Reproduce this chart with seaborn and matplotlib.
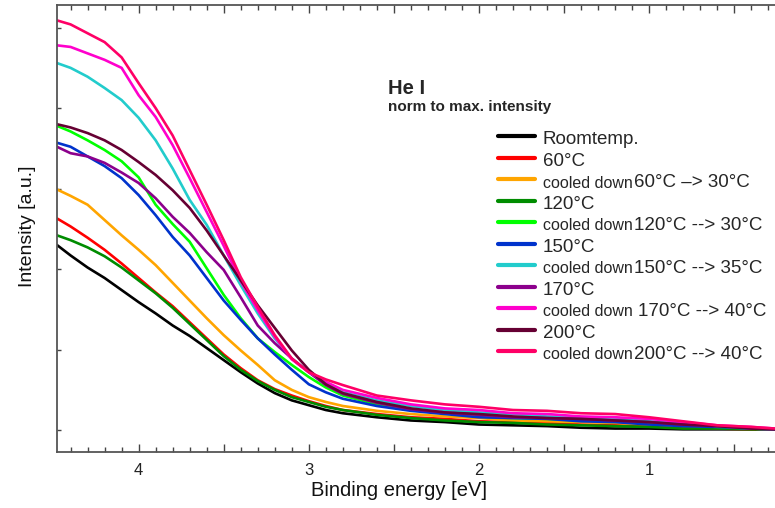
import pandas as pd
import matplotlib
matplotlib.use('Agg')
import matplotlib.pyplot as plt
import seaborn as sns
from matplotlib.ticker import MultipleLocator, FuncFormatter, NullFormatter

# binding energy grid [eV]
energy = [4.48, 4.4, 4.3, 4.2, 4.1, 4.0, 3.9, 3.8, 3.7, 3.6, 3.5, 3.4, 3.3, 3.2, 3.1, 3.0,
          2.9, 2.8, 2.6, 2.4, 2.2, 2.0, 1.8, 1.6, 1.4, 1.2, 1.0, 0.8, 0.6, 0.4, 0.26]

roomtemp = [2.30, 2.17, 2.02, 1.89, 1.74, 1.59, 1.45, 1.30, 1.17, 1.02, 0.87, 0.72, 0.58, 0.46, 0.37, 0.31,
            0.25, 0.21, 0.16, 0.12, 0.10, 0.07, 0.06, 0.05, 0.03, 0.02, 0.02, 0.01, 0.01, 0.01, 0.01]
t60 = [2.63, 2.53, 2.39, 2.24, 2.07, 1.89, 1.71, 1.54, 1.34, 1.14, 0.94, 0.77, 0.62, 0.51, 0.43, 0.36,
       0.30, 0.25, 0.20, 0.16, 0.14, 0.11, 0.10, 0.09, 0.07, 0.06, 0.05, 0.04, 0.02, 0.01, 0.01]
cool60 = [2.99, 2.91, 2.80, 2.61, 2.42, 2.24, 2.05, 1.83, 1.61, 1.39, 1.18, 0.99, 0.81, 0.62, 0.50, 0.41,
          0.35, 0.30, 0.24, 0.20, 0.17, 0.15, 0.12, 0.11, 0.10, 0.09, 0.07, 0.05, 0.04, 0.02, 0.01]
t120 = [2.42, 2.36, 2.27, 2.16, 2.02, 1.86, 1.70, 1.52, 1.32, 1.12, 0.92, 0.75, 0.61, 0.50, 0.41, 0.35,
        0.29, 0.25, 0.19, 0.15, 0.12, 0.10, 0.09, 0.07, 0.06, 0.05, 0.04, 0.02, 0.02, 0.01, 0.01]
cool120 = [3.78, 3.71, 3.60, 3.48, 3.34, 3.14, 2.80, 2.56, 2.34, 2.01, 1.68, 1.39, 1.14, 0.97, 0.81, 0.66,
           0.53, 0.43, 0.32, 0.25, 0.21, 0.17, 0.15, 0.14, 0.12, 0.11, 0.09, 0.06, 0.04, 0.02, 0.01]
t150 = [3.57, 3.52, 3.40, 3.28, 3.13, 2.92, 2.67, 2.40, 2.17, 1.89, 1.61, 1.37, 1.14, 0.94, 0.75, 0.57,
        0.47, 0.39, 0.30, 0.24, 0.20, 0.16, 0.15, 0.14, 0.11, 0.10, 0.07, 0.05, 0.04, 0.02, 0.01]
cool150 = [4.56, 4.50, 4.39, 4.25, 4.10, 3.88, 3.60, 3.25, 2.86, 2.55, 2.17, 1.80, 1.45, 1.14, 0.89, 0.72,
           0.57, 0.47, 0.37, 0.30, 0.25, 0.22, 0.20, 0.17, 0.15, 0.14, 0.11, 0.09, 0.05, 0.02, 0.01]
t170 = [3.52, 3.44, 3.40, 3.32, 3.20, 3.07, 2.88, 2.65, 2.45, 2.21, 1.99, 1.65, 1.30, 1.08, 0.89, 0.72,
        0.56, 0.45, 0.34, 0.26, 0.22, 0.19, 0.16, 0.15, 0.14, 0.12, 0.10, 0.07, 0.05, 0.02, 0.01]
cool170 = [4.78, 4.76, 4.68, 4.60, 4.50, 4.16, 3.89, 3.54, 3.13, 2.71, 2.29, 1.85, 1.49, 1.16, 0.88, 0.72,
           0.60, 0.50, 0.40, 0.32, 0.27, 0.25, 0.21, 0.20, 0.17, 0.16, 0.14, 0.10, 0.06, 0.04, 0.02]
t200 = [3.80, 3.76, 3.69, 3.60, 3.48, 3.33, 3.17, 2.98, 2.76, 2.48, 2.17, 1.86, 1.55, 1.27, 0.99, 0.75,
        0.57, 0.46, 0.35, 0.27, 0.22, 0.20, 0.17, 0.15, 0.14, 0.12, 0.10, 0.07, 0.05, 0.02, 0.01]
cool200 = [5.09, 5.04, 4.93, 4.82, 4.63, 4.31, 4.00, 3.66, 3.23, 2.80, 2.36, 1.90, 1.53, 1.18, 0.89, 0.72,
           0.63, 0.56, 0.43, 0.37, 0.32, 0.29, 0.25, 0.24, 0.21, 0.20, 0.16, 0.11, 0.06, 0.04, 0.02]

names = ['Roomtemp.', '60°C', 'cooled down60°C –> 30°C', '120°C', 'cooled down120°C --> 30°C',
         '150°C', 'cooled down150°C --> 35°C', '170°C', 'cooled down 170°C --> 40°C',
         '200°C', 'cooled down200°C --> 40°C']
series = [roomtemp, t60, cool60, t120, cool120, t150, cool150, t170, cool170, t200, cool200]
colors = ['#000000', '#ff0000', '#ffa500', '#008c00', '#00ff00', '#0033cc',
          '#22cccc', '#8c008c', '#ff00cc', '#660033', '#ff0066']

rows = []
for n, vals in zip(names, series):
    for e, v in zip(energy, vals):
        rows.append((n, e, v))
df = pd.DataFrame(rows, columns=['sample', 'energy', 'intensity'])

sns.set_theme(style='ticks')
plt.rcParams['font.family'] = ['Liberation Sans', 'DejaVu Sans']

fig = plt.figure(figsize=(7.75, 5.08), dpi=100)
ax = fig.add_axes([0.0735, 0.110, 0.9265, 0.880])

sns.lineplot(data=df, x='energy', y='intensity', hue='sample', hue_order=names,
             palette=dict(zip(names, colors)), estimator=None, sort=False,
             linewidth=1.9, legend=False, ax=ax)

ax.set_xlim(4.48, 0.26)
ax.set_ylim(-0.273, 5.28)

ax.xaxis.set_major_locator(MultipleLocator(0.5))
ax.xaxis.set_minor_locator(MultipleLocator(0.1))
ax.xaxis.set_major_formatter(FuncFormatter(lambda v, p: '%d' % round(v) if abs(v - round(v)) < 1e-6 else ''))
ax.yaxis.set_major_locator(MultipleLocator(1))
ax.yaxis.set_major_formatter(NullFormatter())
ax.tick_params(axis='x', which='major', direction='in', top=True, length=6, width=1, color='#444444',
               labelsize=12, pad=8, labelcolor='#222222')
ax.tick_params(axis='x', which='minor', direction='in', top=True, length=3.5, width=1, color='#444444')
ax.tick_params(axis='y', which='major', direction='in', length=3, width=1, color='#444444')

for side in ['left', 'bottom', 'top']:
    ax.spines[side].set_color('#555555')
    ax.spines[side].set_linewidth(1.3)
ax.spines['right'].set_visible(False)

ax.set_xlabel('Binding energy [eV]', fontsize=14.5, color='#111111')
ax.xaxis.set_label_coords(0.476, -0.064)
ax.set_ylabel('Intensity [a.u.]', fontsize=14, color='#111111')
ax.yaxis.set_label_coords(-0.029, 0.505)

ax.text(0.461, 0.814, 'He I', transform=ax.transAxes, fontsize=14.5, fontweight='bold', va='center')
ax.text(0.461, 0.772, 'norm to max. intensity', transform=ax.transAxes, fontsize=11,
        fontweight='bold', va='center')

# legend: "cooled down" is written smaller than the temperatures
short = [n if not n.startswith('cooled') else ('cooled down ' if ' 170' in n else 'cooled down') for n in names]
leg = ax.legend(ax.get_lines(), short, loc='upper left', bbox_to_anchor=(498 / 775, 1 - 128 / 508),
                bbox_transform=fig.transFigure, frameon=False, fontsize=13.5, borderpad=0,
                handlelength=1.95, handletextpad=0.45, handleheight=1.27, labelspacing=0.068,
                borderaxespad=0)
for line in leg.get_lines():
    line.set_linewidth(3)
for t, n in zip(leg.get_texts(), names):
    if n.startswith('cooled'):
        t.set_fontsize(11.5)

fig.canvas.draw()
inv = fig.transFigure.inverted()
for t, n in zip(leg.get_texts(), names):
    if n.startswith('cooled'):
        rest = n.replace('cooled down', '').strip()
        bb = t.get_window_extent()
        x, y = inv.transform((bb.x1 + 1, bb.y0 + 3.4))
        fig.text(x, y, rest, fontsize=13.5, va='baseline', ha='left')

fig.savefig('out.png', dpi=100)
